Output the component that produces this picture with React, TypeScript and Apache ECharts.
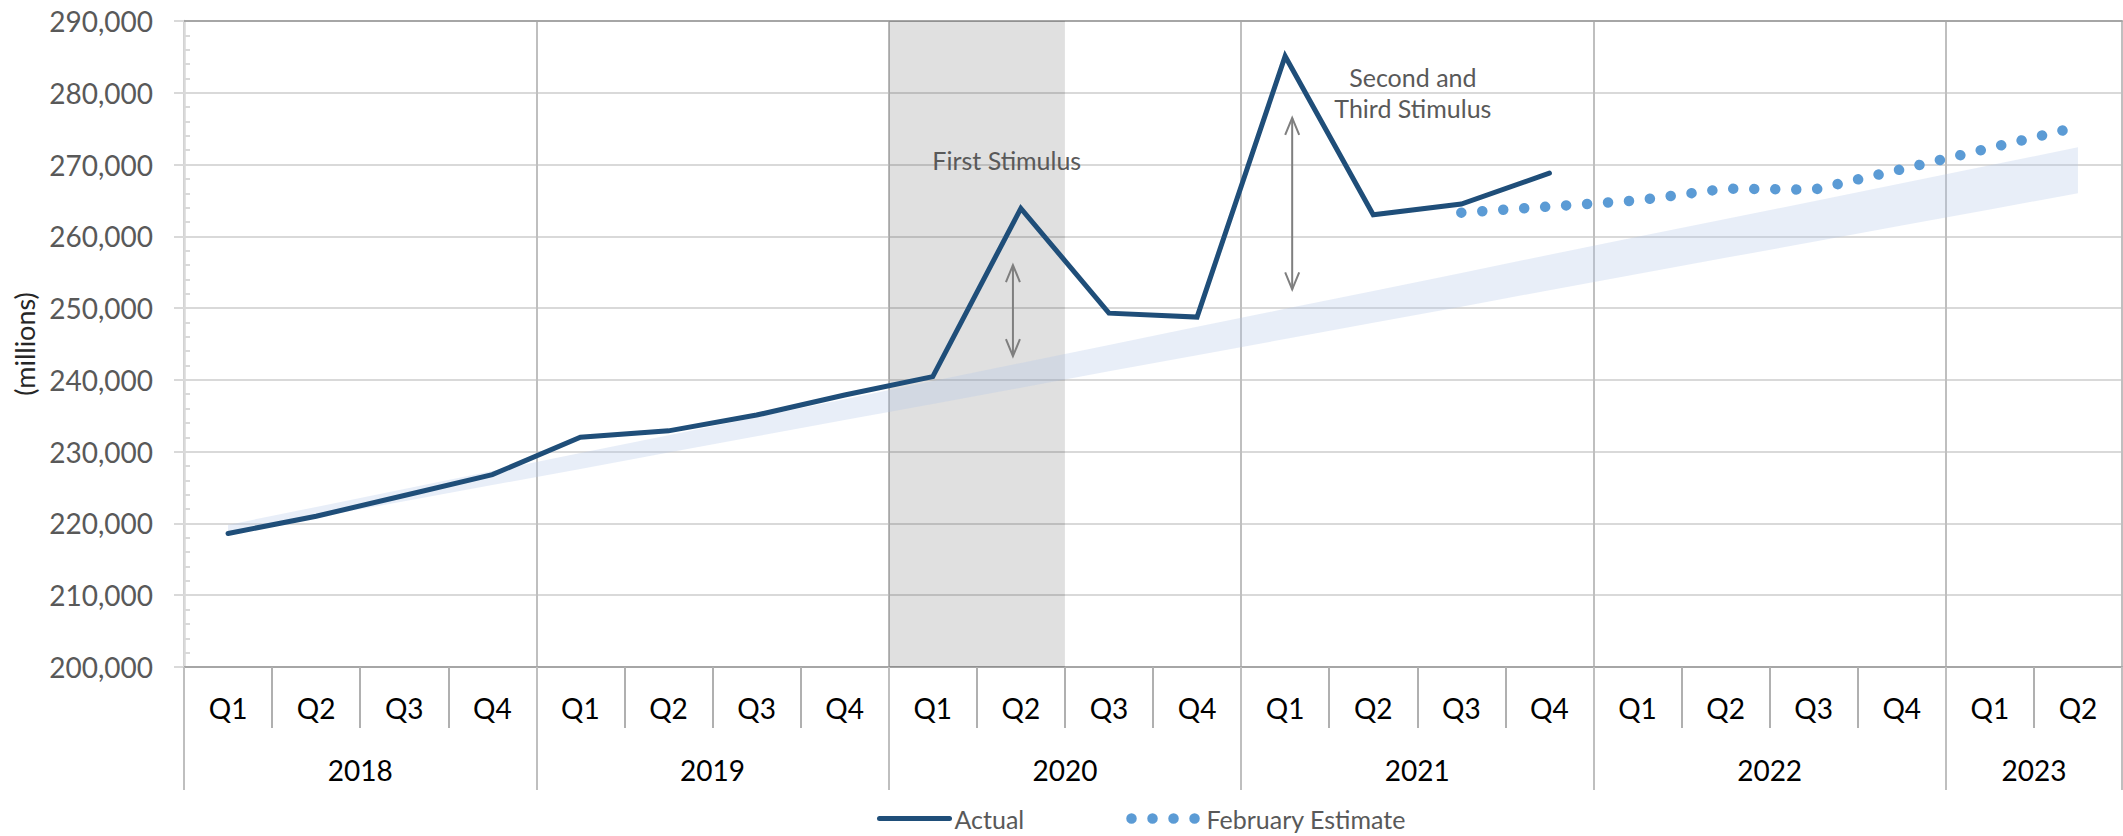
import React, { useEffect, useRef } from "react";
import * as echarts from "echarts";

// ---- data ----
const years = ["2018", "2019", "2020", "2021", "2022", "2023"];
const quartersPerYear = [4, 4, 4, 4, 4, 2];
const quarterNames = ["Q1", "Q2", "Q3", "Q4"];

const actual = [
  218600, 221000, 223900, 226800,
  232000, 232900, 235100, 237900,
  240450, 263900, 249300, 248750,
  285100, 263000, 264500, 268800,
  null, null, null, null,
  null, null,
];

const februaryEstimate = [
  null, null, null, null,
  null, null, null, null,
  null, null, null, null,
  null, null, 263300, 264150,
  265000, 266650, 266500, 269350,
  272300, 275250,
];

const trendLower = [
  218600, 220850, 223100, 225350,
  227600, 229900, 232150, 234400,
  236650, 238900, 241200, 243450,
  245700, 247950, 250200, 252500,
  254750, 257000, 259250, 261500,
  263750, 266000,
];

const trendUpper = [
  219800, 222300, 224800, 227300,
  229800, 232300, 234800, 237300,
  239850, 242350, 244850, 247400,
  249900, 252400, 254900, 257450,
  259950, 262400, 264900, 267400,
  269900, 272400,
];

const yMin = 200000;
const yMax = 290000;
const yStep = 10000;

const shadedQuarters = ["2020 Q1", "2020 Q2"];

// annotations (x in quarter index units, y in data units)
const arrowX = [8.91, 12.08];
const arrowTop = [256000, 276500];
const arrowBottom = [243300, 252600];

const noteText = ["First Stimulus", "Second and\nThird Stimulus"];
const noteX = [8.84, 13.45];
const noteY = [270650, 280050];

// ---- derived ----
const categories: string[] = [];
years.forEach((y, i) => {
  quarterNames.slice(0, quartersPerYear[i]).forEach((q) => categories.push(`${y} ${q}`));
});
const nSlots = categories.length * 2 + 1;
const yearSlots = Array.from({ length: nSlots }, (_, i) => String(i));
const yearBoundarySlots = new Set<number>();
const yearLabelSlots = new Map<number, string>();
{
  let acc = 0;
  years.forEach((y, i) => {
    yearBoundarySlots.add(acc * 2);
    yearLabelSlots.set(acc * 2 + quartersPerYear[i], y);
    acc += quartersPerYear[i];
  });
  yearBoundarySlots.add(acc * 2);
}

const FONT = "Lato";

function fracX(api: any, x: number, y: number) {
  const i0 = Math.floor(x);
  const p = api.coord([i0, y]);
  const w = api.size([1, 0])[0];
  return [p[0] + (x - i0) * w, p[1]];
}

export default function App() {
  const ref = useRef<HTMLDivElement>(null);

  useEffect(() => {
    if (!ref.current) return;
    const chart = echarts.init(ref.current, null, { renderer: "svg" });

    const shadeStart = categories.indexOf(shadedQuarters[0]);
    const shadeEnd = categories.indexOf(shadedQuarters[1]);

    const option: any = {
      animation: false,
      backgroundColor: "#ffffff",
      textStyle: { fontFamily: FONT },
      grid: {
        left: 184,
        right: 1,
        top: 21,
        bottom: 169,
        containLabel: false,
        outerBoundsMode: "none",
      },
      legend: {
        data: ["Actual", "February Estimate"],
        left: 877,
        top: 806,
        padding: 0,
        itemWidth: 70,
        itemHeight: 14,
        itemGap: 102,
        itemTextGap: 6,
        textStyle: { color: "#595959", fontSize: 25, fontFamily: FONT },
        lineStyle: { width: "inherit" },
        itemStyle: { opacity: 0, color: "rgba(0,0,0,0)", borderWidth: 0 },
        selectedMode: false,
      },
      xAxis: [
        {
          type: "category",
          position: "bottom",
          data: categories,
          boundaryGap: true,
          axisLine: { show: true, lineStyle: { color: "#a6a6a6", width: 2 } },
          axisTick: { show: true, interval: 0, length: 61, lineStyle: { color: "#b0b0b0", width: 2 } },
          axisLabel: {
            interval: 0,
            margin: 27,
            fontSize: 28,
            color: "#000000",
            fontFamily: FONT,
            formatter: (v: string) => v.split(" ")[1],
          },
          splitLine: { show: false },
        },
        {
          type: "category",
          position: "bottom",
          data: yearSlots,
          boundaryGap: false,
          axisLine: { show: false },
          axisTick: {
            show: true,
            length: 123,
            interval: (i: number) => yearBoundarySlots.has(i),
            lineStyle: { color: "#bfbfbf", width: 2 },
          },
          axisLabel: {
            interval: (i: number) => yearLabelSlots.has(i),
            formatter: (v: string) => yearLabelSlots.get(Number(v)) || "",
            margin: 89,
            fontSize: 28,
            color: "#000000",
            fontFamily: FONT,
          },
          splitLine: {
            show: true,
            interval: (i: number) => yearBoundarySlots.has(i),
            lineStyle: { color: "#bfbfbf", width: 2 },
          },
        },
        {
          type: "category",
          position: "top",
          data: categories,
          axisLine: { show: true, lineStyle: { color: "#a6a6a6", width: 2 } },
          axisTick: { show: false },
          axisLabel: { show: false },
          splitLine: { show: false },
        },
      ],
      yAxis: [
        {
          type: "value",
          position: "left",
          min: yMin,
          max: yMax,
          interval: yStep,
          name: "(millions)",
          nameLocation: "middle",
          nameRotate: 90,
          nameGap: 144,
          nameTextStyle: { fontSize: 27, color: "#262626", fontFamily: FONT },
          axisLine: { show: true, lineStyle: { color: "#d9d9d9", width: 2.5 } },
          axisTick: { show: true, length: 10, lineStyle: { color: "#d9d9d9", width: 2 } },
          axisLabel: {
            margin: 31,
            fontSize: 28,
            color: "#595959",
            fontFamily: FONT,
            formatter: (v: number) => v.toLocaleString("en-US"),
          },
          splitLine: { show: true, lineStyle: { color: "#d9d9d9", width: 2 } },
        },
        {
          type: "value",
          position: "left",
          min: yMin,
          max: yMax,
          interval: yStep,
          axisLine: { show: false },
          axisTick: { show: false, inside: true },
          minorTick: { show: true, splitNumber: 5, length: 6, lineStyle: { color: "#d9d9d9", width: 2 } },
          axisLabel: { show: false },
          splitLine: { show: false },
        },
      ],
      series: [
        {
          type: "custom",
          name: "shade",
          silent: true,
          z: 1,
          data: [[shadeStart, shadeEnd]],
          encode: { x: 0 },
          renderItem: (params: any, api: any) => {
            const s = api.value(0);
            const e = api.value(1);
            const w = api.size([1, 0])[0];
            const x0 = api.coord([s, yMax])[0] - w / 2;
            const x1 = api.coord([e, yMax])[0] + w / 2;
            const cs = params.coordSys;
            return {
              type: "rect",
              shape: { x: x0, y: cs.y, width: x1 - x0, height: cs.height },
              style: { fill: "rgba(0,0,0,0.12)" },
            };
          },
        },
        {
          type: "line",
          name: "trendLower",
          data: trendLower,
          stack: "trend",
          symbol: "none",
          silent: true,
          z: 2,
          lineStyle: { width: 0, opacity: 0 },
        },
        {
          type: "line",
          name: "trendBand",
          data: trendUpper.map((u, i) => u - trendLower[i]),
          stack: "trend",
          symbol: "none",
          silent: true,
          z: 2,
          lineStyle: { width: 0, opacity: 0 },
          areaStyle: { color: "rgba(180,199,231,0.3)", opacity: 1 },
        },
        {
          type: "line",
          name: "Actual",
          data: actual,
          symbol: "none",
          z: 4,
          color: "#1f4e79",
          itemStyle: { color: "#1f4e79" },
          lineStyle: { color: "#1f4e79", width: 5, cap: "round", join: "miter" },
        },
        {
          type: "line",
          name: "February Estimate",
          data: februaryEstimate,
          symbol: "none",
          z: 5,
          color: "#5b9bd5",
          itemStyle: { color: "#5b9bd5" },
          lineStyle: { color: "#5b9bd5", width: 10.5, type: [0.01, 21], cap: "round" },
        },
        {
          type: "custom",
          name: "arrows",
          silent: true,
          z: 6,
          data: arrowX.map((x, i) => [x, arrowTop[i], arrowBottom[i]]),
          encode: { x: 0, y: [1, 2] },
          renderItem: (params: any, api: any) => {
            const x = api.value(0);
            const [px, pt] = fracX(api, x, api.value(1));
            const pb = fracX(api, x, api.value(2))[1];
            const st = { stroke: "#7f7f7f", lineWidth: 2, fill: "none" };
            return {
              type: "group",
              children: [
                { type: "line", shape: { x1: px, y1: pt, x2: px, y2: pb }, style: st },
                { type: "polyline", shape: { points: [[px - 7, pt + 17], [px, pt], [px + 7, pt + 17]] }, style: st },
                { type: "polyline", shape: { points: [[px - 7, pb - 17], [px, pb], [px + 7, pb - 17]] }, style: st },
              ],
            };
          },
        },
        {
          type: "custom",
          name: "notes",
          silent: true,
          z: 6,
          data: noteX.map((x, i) => [x, noteY[i], i]),
          encode: { x: 0, y: 1 },
          renderItem: (params: any, api: any) => {
            const [px, py] = fracX(api, api.value(0), api.value(1));
            return {
              type: "text",
              x: px,
              y: py,
              style: {
                text: noteText[api.value(2)],
                align: "center",
                verticalAlign: "middle",
                fill: "#595959",
                fontSize: 25,
                lineHeight: 31,
                fontFamily: FONT,
              },
            };
          },
        },
      ],
    };

    chart.setOption(option);
    return () => chart.dispose();
  }, []);

  return (
    <div
      ref={ref}
      style={{ position: "fixed", left: 0, top: 0, width: 2123, height: 836, background: "#fff" }}
    />
  );
}
